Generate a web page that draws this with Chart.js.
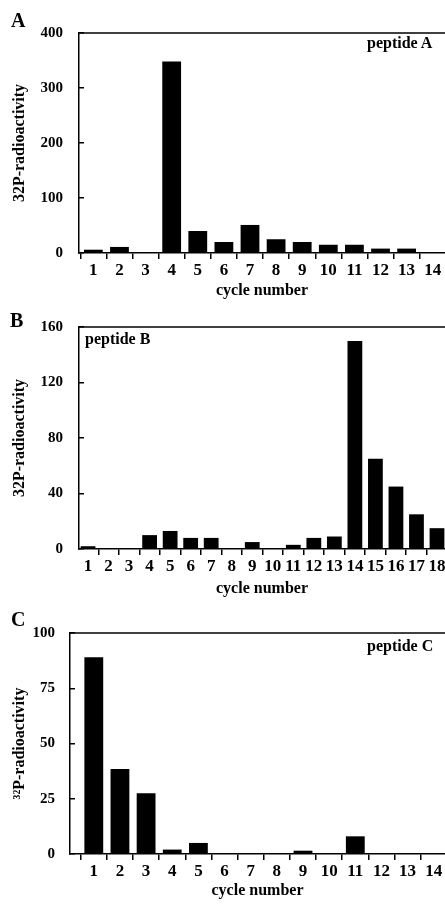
<!DOCTYPE html>
<html>
<head>
<meta charset="utf-8">
<script src="https://cdn.jsdelivr.net/npm/chart.js@4"></script>
<style>
  body { margin: 0; background: #fff; width: 445px; height: 905px; overflow: hidden; position: relative;
         font-family: "Liberation Serif", "Times New Roman", serif; font-weight: bold; color: #000; }
  .panel { position: absolute; left: 0; width: 445px; }
  .letter { position: absolute; font-size: 20px; line-height: 20px; }
  .pep { position: absolute; font-size: 16px; line-height: 16px; white-space: nowrap; }
</style>
</head>
<body>
<div class="panel" style="top:0;height:300px"><canvas id="chartA" width="445" height="300"></canvas></div>
<div class="panel" style="top:300px;height:300px"><canvas id="chartB" width="445" height="300"></canvas></div>
<div class="panel" style="top:600px;height:305px"><canvas id="chartC" width="445" height="305"></canvas></div>

<div class="letter" style="left:11px;top:10px">A</div>
<div class="letter" style="left:10px;top:310px">B</div>
<div class="letter" style="left:11px;top:609px">C</div>
<div class="pep" style="left:367px;top:35px">peptide A</div>
<div class="pep" style="left:85px;top:331px">peptide B</div>
<div class="pep" style="left:367px;top:638px">peptide C</div>

<script>
// peptide A
const cyclesA = [1, 2, 3, 4, 5, 6, 7, 8, 9, 10, 11, 12, 13, 14];
const valuesA = [6, 11, 0, 348, 40, 20, 51, 25, 20, 15, 15, 8, 8, 0];
const yTicksA = [0, 100, 200, 300, 400];

// peptide B
const cyclesB = [1, 2, 3, 4, 5, 6, 7, 8, 9, 10, 11, 12, 13, 14, 15, 16, 17, 18];
const valuesB = [2, 0, 0, 10, 13, 8, 8, 0, 5, 0, 3, 8, 9, 150, 65, 45, 25, 15];
const yTicksB = [0, 40, 80, 120, 160];

// peptide C
const cyclesC = [1, 2, 3, 4, 5, 6, 7, 8, 9, 10, 11, 12, 13, 14];
const valuesC = [89, 38.5, 27.5, 2, 5, 0, 0, 0, 1.5, 0, 8, 0, 0, 0];
const yTicksC = [0, 25, 50, 75, 100];

const fontName = "'Liberation Serif', 'Times New Roman', serif";

// top edge of the plot box
const topLine = {
  id: "topLine",
  afterDraw(chart) {
    const a = chart.chartArea;
    const c = chart.ctx;
    c.save();
    c.strokeStyle = "#000";
    c.lineWidth = 1.5;
    c.beginPath();
    c.moveTo(a.left, a.top);
    c.lineTo(a.right, a.top);
    c.stroke();
    c.restore();
  }
};

function makePanel(id, cycles, values, yTicks, o) {
  return new Chart(document.getElementById(id), {
    type: "bar",
    data: {
      datasets: [{
        data: cycles.map((c, i) => ({ x: c, y: values[i] })),
        backgroundColor: "#000",
        borderWidth: 0,
        barPercentage: 0.72,
        categoryPercentage: 1
      }]
    },
    options: {
      responsive: false,
      animation: false,
      layout: { padding: { top: o.top, left: 0, right: 0, bottom: 0 } },
      plugins: { legend: { display: false }, tooltip: { enabled: false } },
      scales: {
        x: {
          type: "linear",
          offset: false,
          min: o.xMin,
          max: o.xMax,
          afterBuildTicks: s => { s.ticks = cycles.map(v => ({ value: v })); },
          afterFit: s => { s.height = o.xHeight; s.paddingLeft = 0; s.paddingRight = 0; },
          ticks: {
            color: "#000",
            padding: 1,
            maxRotation: 0,
            autoSkip: false,
            font: { family: fontName, size: 17, weight: "bold", lineHeight: 1.2 },
            callback: v => String(v)
          },
          grid: { drawOnChartArea: false, tickLength: 6, color: "#000", lineWidth: 1.5 },
          border: { color: "#000", width: 1.5 },
          title: {
            display: true,
            text: "cycle number",
            color: "#000",
            padding: { top: 0, bottom: o.xTitlePad },
            font: { family: fontName, size: 16, weight: "bold", lineHeight: 1.1 }
          }
        },
        y: {
          min: 0,
          max: yTicks[yTicks.length - 1],
          afterBuildTicks: s => { s.ticks = yTicks.map(v => ({ value: v })); },
          afterFit: s => { s.width = o.left; s.paddingTop = 0; s.paddingBottom = 0; },
          ticks: {
            color: "#000",
            padding: o.yPad,
            font: { family: fontName, size: 15, weight: "bold" }
          },
          grid: { drawOnChartArea: false, tickLength: -5, color: "#000", lineWidth: 1.5 },
          border: { color: "#000", width: 1.5 },
          title: {
            display: true,
            text: o.yTitle,
            color: "#000",
            padding: { top: 10.4, bottom: 0 },
            font: { family: fontName, size: 16, weight: "bold", lineHeight: 1.2 }
          }
        }
      }
    },
    plugins: [topLine]
  });
}

makePanel("chartA", cyclesA, valuesA, yTicksA,
  { top: 33, left: 79, xHeight: 47, xMin: 0.45, xMax: 14.47, xTitlePad: 0, yPad: 21, yTitle: "32P-radioactivity" });
makePanel("chartB", cyclesB, valuesB, yTicksB,
  { top: 27, left: 79, xHeight: 51, xMin: 0.56, xMax: 18.39, xTitlePad: 2, yPad: 21, yTitle: "32P-radioactivity" });
makePanel("chartC", cyclesC, valuesC, yTicksC,
  { top: 33, left: 70, xHeight: 51, xMin: 0.09, xMax: 14.43, xTitlePad: 5, yPad: 20, yTitle: "\u00b3\u00b2P-radioactivity" });
</script>
</body>
</html>
